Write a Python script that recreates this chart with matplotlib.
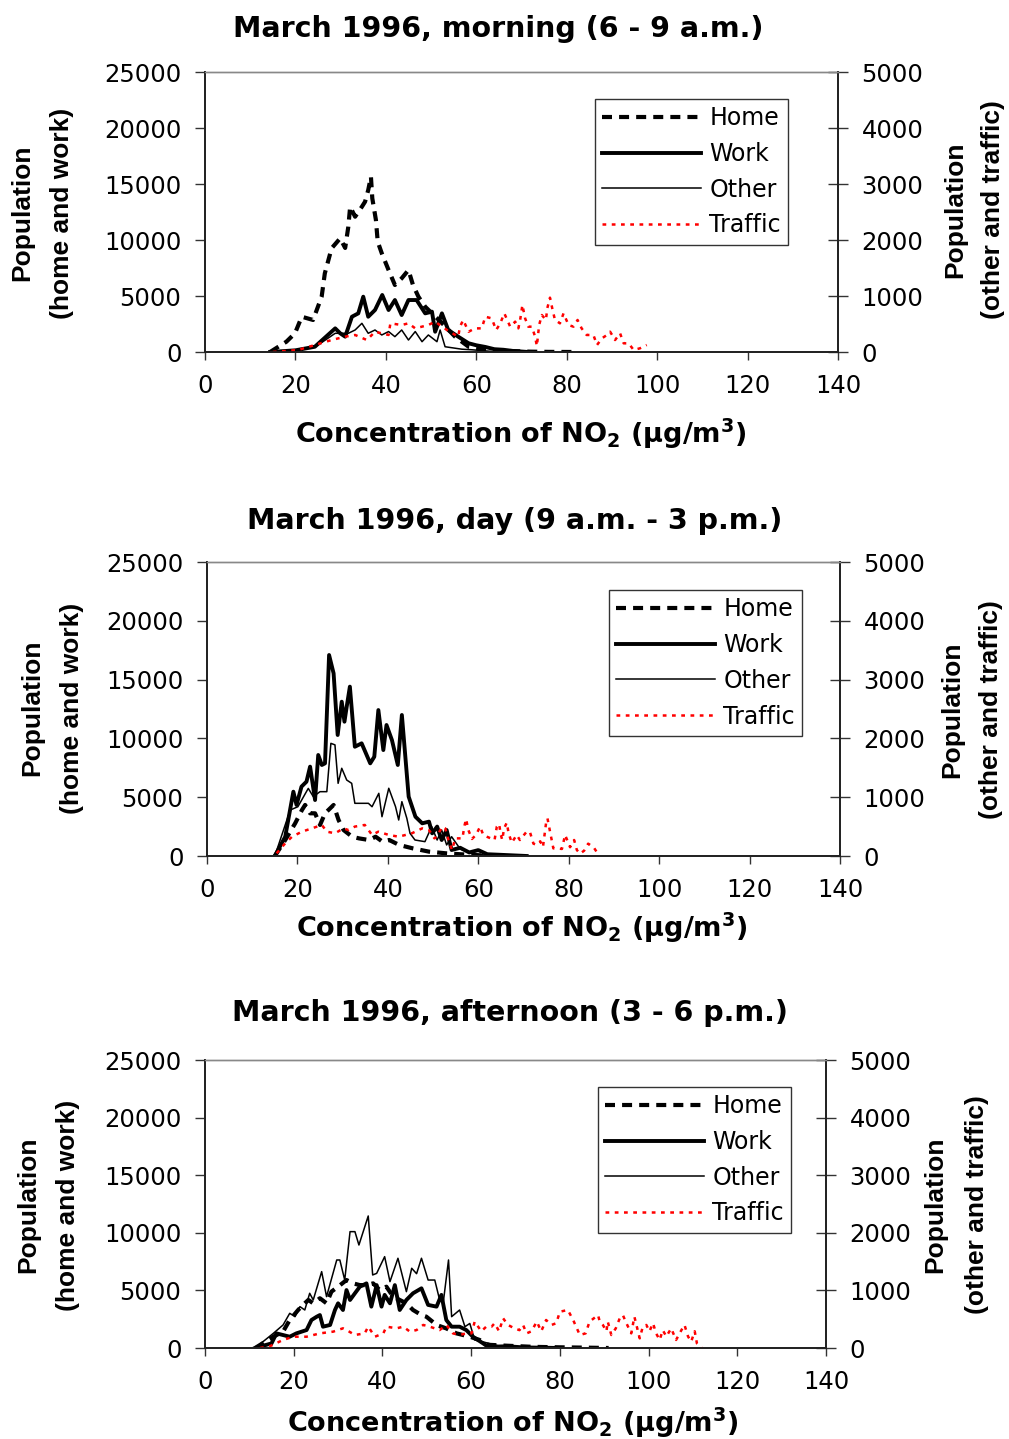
import matplotlib
matplotlib.use('Agg')
import matplotlib.pyplot as plt

plt.rcParams['font.family'] = ['DejaVu Sans']
plt.rcParams['mathtext.fontset'] = 'custom'
plt.rcParams['mathtext.rm'] = 'DejaVu Sans:bold'
plt.rcParams['mathtext.it'] = 'DejaVu Sans:bold'
plt.rcParams['mathtext.bf'] = 'DejaVu Sans:bold'

# ---------------- data ----------------
titles = ["March 1996, morning (6 - 9 a.m.)",
          "March 1996, day (9 a.m. - 3 p.m.)",
          "March 1996, afternoon (3 - 6 p.m.)"]
series_labels = ["Home", "Work", "Other", "Traffic"]
x_ticks = [0, 20, 40, 60, 80, 100, 120, 140]
left_ticks = [0, 5000, 10000, 15000, 20000, 25000]
right_ticks = [0, 1000, 2000, 3000, 4000, 5000]

# Morning (left axis: home, work; right axis: other, traffic)
m_home_x = [14.4, 18, 19.9, 21.4, 23.9, 25.8, 26.5, 28, 29.9, 31, 31.7, 32.1, 33.2, 34.7, 35.4,
            36.1, 36.7, 37, 37.8, 38.2, 39.1, 40.6, 42, 43.5, 45, 46, 47.2, 48.7, 50.2, 52.4,
            55.3, 58.3, 61, 64, 68, 72, 76, 82]
m_home_y = [0, 920, 1670, 3150, 2860, 4940, 7020, 9260, 10150, 9290, 11190, 12970, 12080, 12970, 13420,
            14460, 15650, 13720, 11790, 9850, 8810, 7320, 5980, 6580, 7320, 5980, 4940, 4040, 3450, 2590,
            1370, 470, 300, 150, 80, 30, 10, 0]
m_work_x = [14.4, 20, 24.3, 28.8, 29.9, 31, 32.5, 33.9, 35, 36.1, 37.6, 39.2, 40.6, 42, 43.5,
            45, 46.8, 48.7, 50.2, 50.9, 52.4, 53.8, 56, 58.3, 60, 62, 64, 66, 68, 71.5]
m_work_y = [0, 150, 470, 2110, 1670, 1370, 3150, 3450, 4940, 3150, 3750, 5090, 3750, 4640, 3300,
            4640, 4640, 3450, 3600, 1810, 3450, 1960, 1370, 780, 600, 450, 250, 200, 100, 0]
m_other_x = [14.4, 20, 25, 28.8, 31.7, 33.2, 34.7, 36.1, 37.6, 39.1, 40.6, 42, 43.5, 45, 46.5,
             48, 49.4, 51.3, 52, 53.1, 56.8, 59, 62, 65]
m_other_y = [0, 20, 125, 334, 334, 393, 512, 334, 393, 304, 365, 274, 393, 214, 365,
             184, 304, 184, 393, 94, 50, 40, 20, 0]
m_traffic_x = [15, 20.6, 24.3, 28, 31, 33.2, 35.8, 37.6, 40.6, 41, 43.5, 45, 46.5, 49.4, 50.9,
               53.5, 56, 56.4, 57.1, 58.3, 59.7, 61.2, 62, 63.4, 64.4, 65.3, 66.2, 67.5, 68.6, 69.3,
               69.7, 70.2, 70.8, 71.5, 72.3, 73, 73.4, 73.9, 74.5, 75.4, 75.7, 76.3, 76.8, 77.4, 78.5,
               79.3, 80.4, 81.5, 82.4, 83.3, 84.4, 85.9, 86.7, 87.8, 88.9, 89.6, 90.7, 91.8, 92.6, 93.7,
               94.8, 96.2, 97.7]
m_traffic_y = [0, 36, 125, 214, 274, 304, 214, 362, 304, 512, 482, 512, 422, 482, 542,
               393, 274, 452, 572, 362, 422, 422, 630, 601, 393, 512, 690, 452, 542, 422,
               572, 840, 601, 452, 452, 274, 107, 482, 660, 572, 780, 970, 780, 572, 512,
               690, 482, 452, 572, 422, 304, 304, 125, 245, 304, 362, 214, 334, 155, 155,
               36, 66, 125]

# Day
d_home_x = [15, 17.3, 19.5, 21, 21.7, 22.8, 23.9, 25, 26.1, 28, 29.1, 30.2, 32.1, 33.6, 35.8,
            37.3, 38.8, 40.3, 42.5, 45.5, 49.1, 52.8, 56, 60, 66]
d_home_y = [0, 1360, 2780, 3910, 4340, 3630, 3630, 2640, 3630, 4340, 3060, 2210, 1640, 1500, 1360,
            1640, 1220, 1360, 940, 650, 370, 230, 150, 60, 0]
d_work_x = [15, 17.3, 19.1, 19.8, 20.9, 22, 22.8, 23.9, 24.6, 25.4, 26.1, 27, 28, 28.9, 29.8,
            30.4, 30.9, 31.6, 32.7, 34.2, 36.1, 37, 37.9, 39, 39.7, 40.9, 42.2, 43.1, 44.6, 46.1,
            47.6, 49.1, 49.8, 50.9, 51.9, 53, 54.1, 56, 58, 60, 62, 65, 70.7]
d_work_y = [0, 1640, 5470, 4340, 5900, 6320, 7600, 4760, 8590, 7740, 7880, 17090, 15530, 10290, 13120,
            11420, 12700, 14400, 9290, 9580, 7880, 8440, 12410, 9010, 11140, 9860, 7740, 11990, 5050, 3340,
            2780, 2920, 1930, 2500, 1360, 2210, 510, 700, 300, 500, 150, 100, 0]
d_other_x = [15, 18.4, 20.1, 22.4, 23.5, 25, 26.5, 27.4, 28.3, 29, 29.8, 30.9, 32, 32.7, 35.7,
             36.5, 38, 38.7, 40.2, 41.7, 42.4, 43.1, 44.2, 44.9, 46, 48.2, 49.7, 50.9, 51.9, 53,
             54.1, 56, 58, 60, 63]
d_other_y = [0, 782, 838, 1150, 1010, 1094, 1094, 1916, 1890, 1236, 1492, 1292, 1236, 896, 896,
             838, 1066, 668, 1152, 838, 612, 924, 640, 386, 272, 244, 500, 272, 442, 188,
             328, 120, 60, 30, 0]
d_traffic_x = [15.4, 17.3, 18.8, 21, 23.2, 25.4, 26.5, 28.3, 30.2, 31.3, 32.7, 34.9, 36.5, 37.9, 40.2,
               42.4, 45.3, 47.6, 49.1, 50.3, 50.8, 51.4, 52.1, 52.7, 53.4, 54.2, 54.9, 56.5, 56.9, 57.3,
               57.8, 58.6, 59.5, 60.4, 61.1, 61.9, 63.6, 64.1, 64.6, 65, 65.3, 65.7, 66.3, 66.7, 67.4,
               68.5, 69.2, 70.7, 71.4, 72.2, 72.9, 73.7, 74.3, 75, 75.3, 75.8, 76.6, 77.3, 78.5, 79.2,
               80.3, 81.2, 81.8, 82.5, 83.4, 84.3, 85.5, 86.6]
d_traffic_y = [46, 216, 328, 414, 470, 528, 414, 386, 470, 440, 500, 528, 358, 414, 358,
               328, 386, 470, 440, 300, 328, 414, 500, 470, 272, 102, 300, 300, 500, 630,
               442, 290, 358, 500, 358, 328, 272, 500, 544, 358, 272, 470, 566, 390, 226,
               358, 272, 414, 414, 210, 190, 250, 150, 566, 640, 442, 130, 130, 120, 358,
               150, 272, 102, 40, 90, 210, 150, 20]

# Afternoon
a_home_x = [11.3, 15.4, 17.6, 19.1, 21, 22.1, 23.3, 24.4, 25.9, 27.4, 28.5, 30, 31.9, 33.4, 34.9,
            36.4, 37.9, 39.4, 40.9, 42.4, 43.9, 45.4, 46.9, 48.8, 49.9, 52.2, 54.4, 56.7, 59.7, 61.9,
            63.8, 68, 74, 80, 86, 91]
a_home_y = [0, 980, 1420, 2430, 3300, 3740, 4170, 3880, 4320, 3880, 4890, 5320, 5900, 5610, 5460,
            5460, 5610, 5030, 5320, 4460, 4170, 3880, 3300, 2860, 2720, 2000, 1700, 1270, 980, 700,
            280, 200, 100, 60, 30, 0]
a_work_x = [11.3, 15, 16.1, 19.1, 20.6, 22.9, 24, 25.2, 25.9, 26.6, 28.2, 29.3, 30, 31.1, 31.9,
            32.7, 33.8, 34.9, 36.4, 37.5, 38.7, 39.8, 40.5, 41.7, 42.8, 43.9, 45.4, 46.9, 48.8, 50.3,
            52.2, 53.3, 54.4, 55.6, 57.4, 58.9, 60.4, 62.7, 63.8, 68, 72, 80]
a_work_y = [0, 400, 1270, 980, 1270, 1560, 2430, 2720, 2860, 1850, 2000, 3300, 3880, 3300, 5030,
            4170, 4750, 5320, 5610, 3590, 5460, 3590, 4610, 3880, 5460, 3300, 4170, 4750, 5180, 3740,
            3590, 4610, 2430, 1850, 1850, 1560, 980, 400, 100, 150, 50, 0]
a_other_x = [11.3, 15.4, 17.6, 19.1, 20.3, 21.4, 22.5, 23.6, 24.4, 26.3, 27.4, 29.7, 30.4, 31.5, 32.7,
             33.8, 34.7, 36.8, 37.8, 38.7, 40.5, 41.7, 43.5, 45.4, 46.6, 47.7, 48.8, 50.3, 51.8, 52.9,
             53.7, 54.9, 55.6, 57.4, 58.6, 59.7, 60.8, 63, 66, 70]
a_other_y = [0, 254, 400, 602, 544, 718, 660, 950, 834, 1326, 892, 1528, 1528, 1180, 2020,
             2020, 1788, 2292, 1268, 1296, 1586, 1152, 1558, 978, 1384, 1290, 1558, 1180, 1180, 834,
             780, 1528, 544, 660, 370, 426, 140, 100, 40, 0]
a_traffic_x = [12.4, 14.6, 17.6, 19.9, 22.9, 25.9, 28.9, 31.1, 31.9, 33.8, 36, 36.8, 38.3, 40.2, 40.9,
               43.2, 44.7, 46.2, 47.7, 49.2, 50.7, 52.9, 54.4, 55.9, 57.4, 58.9, 60.1, 60.8, 62.3, 63.4,
               64.6, 65.3, 66.3, 67.2, 68.3, 69.8, 70.9, 71.7, 72.5, 73.6, 74.8, 75.8, 76.9, 78.1, 79.2,
               80, 81.8, 83, 84.5, 85.8, 86.7, 88.6, 89, 89.7, 90.5, 90.8, 91.6, 92.6, 93.5, 94.2,
               95, 96.1, 96.8, 98, 98.7, 99.5, 100.2, 101, 101.7, 102.5, 103.2, 104, 105.1, 106.2, 107.4,
               108.1, 108.9, 109.6, 110.4, 110.9, 112]
a_traffic_y = [0, 30, 140, 196, 196, 254, 284, 342, 312, 226, 254, 370, 196, 254, 370,
               342, 370, 284, 312, 400, 370, 312, 400, 254, 226, 254, 254, 458, 290, 370,
               370, 430, 290, 516, 400, 340, 310, 400, 254, 290, 458, 290, 486, 400, 430,
               630, 660, 486, 226, 254, 458, 572, 458, 400, 290, 458, 226, 340, 516, 572,
               430, 254, 544, 168, 370, 400, 290, 430, 254, 140, 310, 200, 340, 140, 310,
               400, 200, 110, 290, 80, 0]

# ---------------- layout (pixels) ----------------
W, H = 1009, 1439
fig = plt.figure(figsize=(W / 100, H / 100), dpi=100)


def fx(px):
    return px / W


def fy(py):
    return 1 - py / H


panels = [
    dict(rect=(205, 72, 838, 352), title=titles[0], tpos=(498, 37), xl=(521, 443),
         yl=(22, 62, 213), yr=(955, 993, 210), leg=(788, 99),
         home=(m_home_x, m_home_y), work=(m_work_x, m_work_y),
         other=(m_other_x, m_other_y), traffic=(m_traffic_x, m_traffic_y)),
    dict(rect=(207, 562, 840, 856), title=titles[1], tpos=(515, 529), xl=(522, 937),
         yl=(32, 72, 708), yr=(952, 991, 710), leg=(802, 590),
         home=(d_home_x, d_home_y), work=(d_work_x, d_work_y),
         other=(d_other_x, d_other_y), traffic=(d_traffic_x, d_traffic_y)),
    dict(rect=(205, 1060, 826, 1348), title=titles[2], tpos=(510, 1021), xl=(513, 1432),
         yl=(28, 68, 1205), yr=(935, 977, 1205), leg=(791, 1087),
         home=(a_home_x, a_home_y), work=(a_work_x, a_work_y),
         other=(a_other_x, a_other_y), traffic=(a_traffic_x, a_traffic_y)),
]

xlabel = r'Concentration of NO$_\mathrm{2}$ (µg/m$^\mathrm{3}$)'
yfont = ['Liberation Sans', 'DejaVu Sans']


def xy(pair):
    xs, ys = pair
    n = min(len(xs), len(ys))
    return xs[:n], ys[:n]


for p in panels:
    l, t, r, b = p['rect']
    ax = fig.add_axes([fx(l), fy(b), fx(r) - fx(l), fy(t) - fy(b)])
    ax2 = ax.twinx()

    hx, hy = xy(p['home'])
    wx, wy = xy(p['work'])
    ox, oy = xy(p['other'])
    tx, ty = xy(p['traffic'])

    h_home, = ax.plot(hx, hy, color='black', lw=3.0, dashes=(2.4, 1.7),
                      dash_capstyle='butt', label=series_labels[0])
    h_work, = ax.plot(wx, wy, color='black', lw=2.8, label=series_labels[1])
    h_other, = ax2.plot(ox, oy, color='black', lw=1.1, label=series_labels[2])
    h_traffic, = ax2.plot(tx, ty, color='#ff0000', lw=1.8, dashes=(1.5, 2.2),
                          label=series_labels[3])

    ax.set_xlim(0, 140)
    ax.set_ylim(0, 25000)
    ax2.set_ylim(0, 5000)
    ax.set_xticks(x_ticks)
    ax.set_yticks(left_ticks)
    ax2.set_yticks(right_ticks)
    ax.set_xticklabels([str(v) for v in x_ticks])
    ax.set_yticklabels([str(v) for v in left_ticks])
    ax2.set_yticklabels([str(v) for v in right_ticks])

    ax.tick_params(axis='x', direction='out', length=6, width=1, pad=10,
                   labelsize=17.5, colors='#333333', labelcolor='black')
    ax.tick_params(axis='y', direction='out', length=7, width=1, pad=10,
                   labelsize=17.5, colors='#333333', labelcolor='black')
    ax2.tick_params(axis='y', direction='inout', length=14, width=1, pad=10,
                    labelsize=17.5, colors='#333333', labelcolor='black')

    for a in (ax, ax2):
        a.spines['top'].set_color('#888888')
        a.spines['top'].set_linewidth(1.0)
        for s in ('left', 'right', 'bottom'):
            a.spines[s].set_color('#222222')
            a.spines[s].set_linewidth(1.3)

    # titles and labels
    fig.text(fx(p['tpos'][0]), fy(p['tpos'][1]), p['title'], ha='center', va='baseline',
             fontsize=20.5, fontweight='bold')
    fig.text(fx(p['xl'][0]), fy(p['xl'][1]), xlabel, ha='center', va='baseline',
             fontsize=19.5, fontweight='bold')
    x1, x2, yc = p['yl']
    fig.text(fx(x1), fy(yc), 'Population', rotation=90, ha='center', va='center',
             fontsize=19, fontweight='bold', family=yfont)
    fig.text(fx(x2), fy(yc), '(home and work)', rotation=90, ha='center', va='center',
             fontsize=19, fontweight='bold', family=yfont)
    x1, x2, yc = p['yr']
    fig.text(fx(x1), fy(yc), 'Population', rotation=90, ha='center', va='center',
             fontsize=19, fontweight='bold', family=yfont)
    fig.text(fx(x2), fy(yc), '(other and traffic)', rotation=90, ha='center', va='center',
             fontsize=19, fontweight='bold', family=yfont)

    leg = ax2.legend([h_home, h_work, h_other, h_traffic], series_labels,
                     loc='upper right', bbox_to_anchor=(fx(p['leg'][0]), fy(p['leg'][1])),
                     bbox_transform=fig.transFigure, fontsize=17, frameon=True,
                     fancybox=False, edgecolor='#333333', framealpha=1,
                     handlelength=4.2, handletextpad=0.35, labelspacing=0.5,
                     borderpad=0.3, borderaxespad=0)
    leg.get_frame().set_linewidth(1.0)

fig.savefig('out.png', dpi=100)
